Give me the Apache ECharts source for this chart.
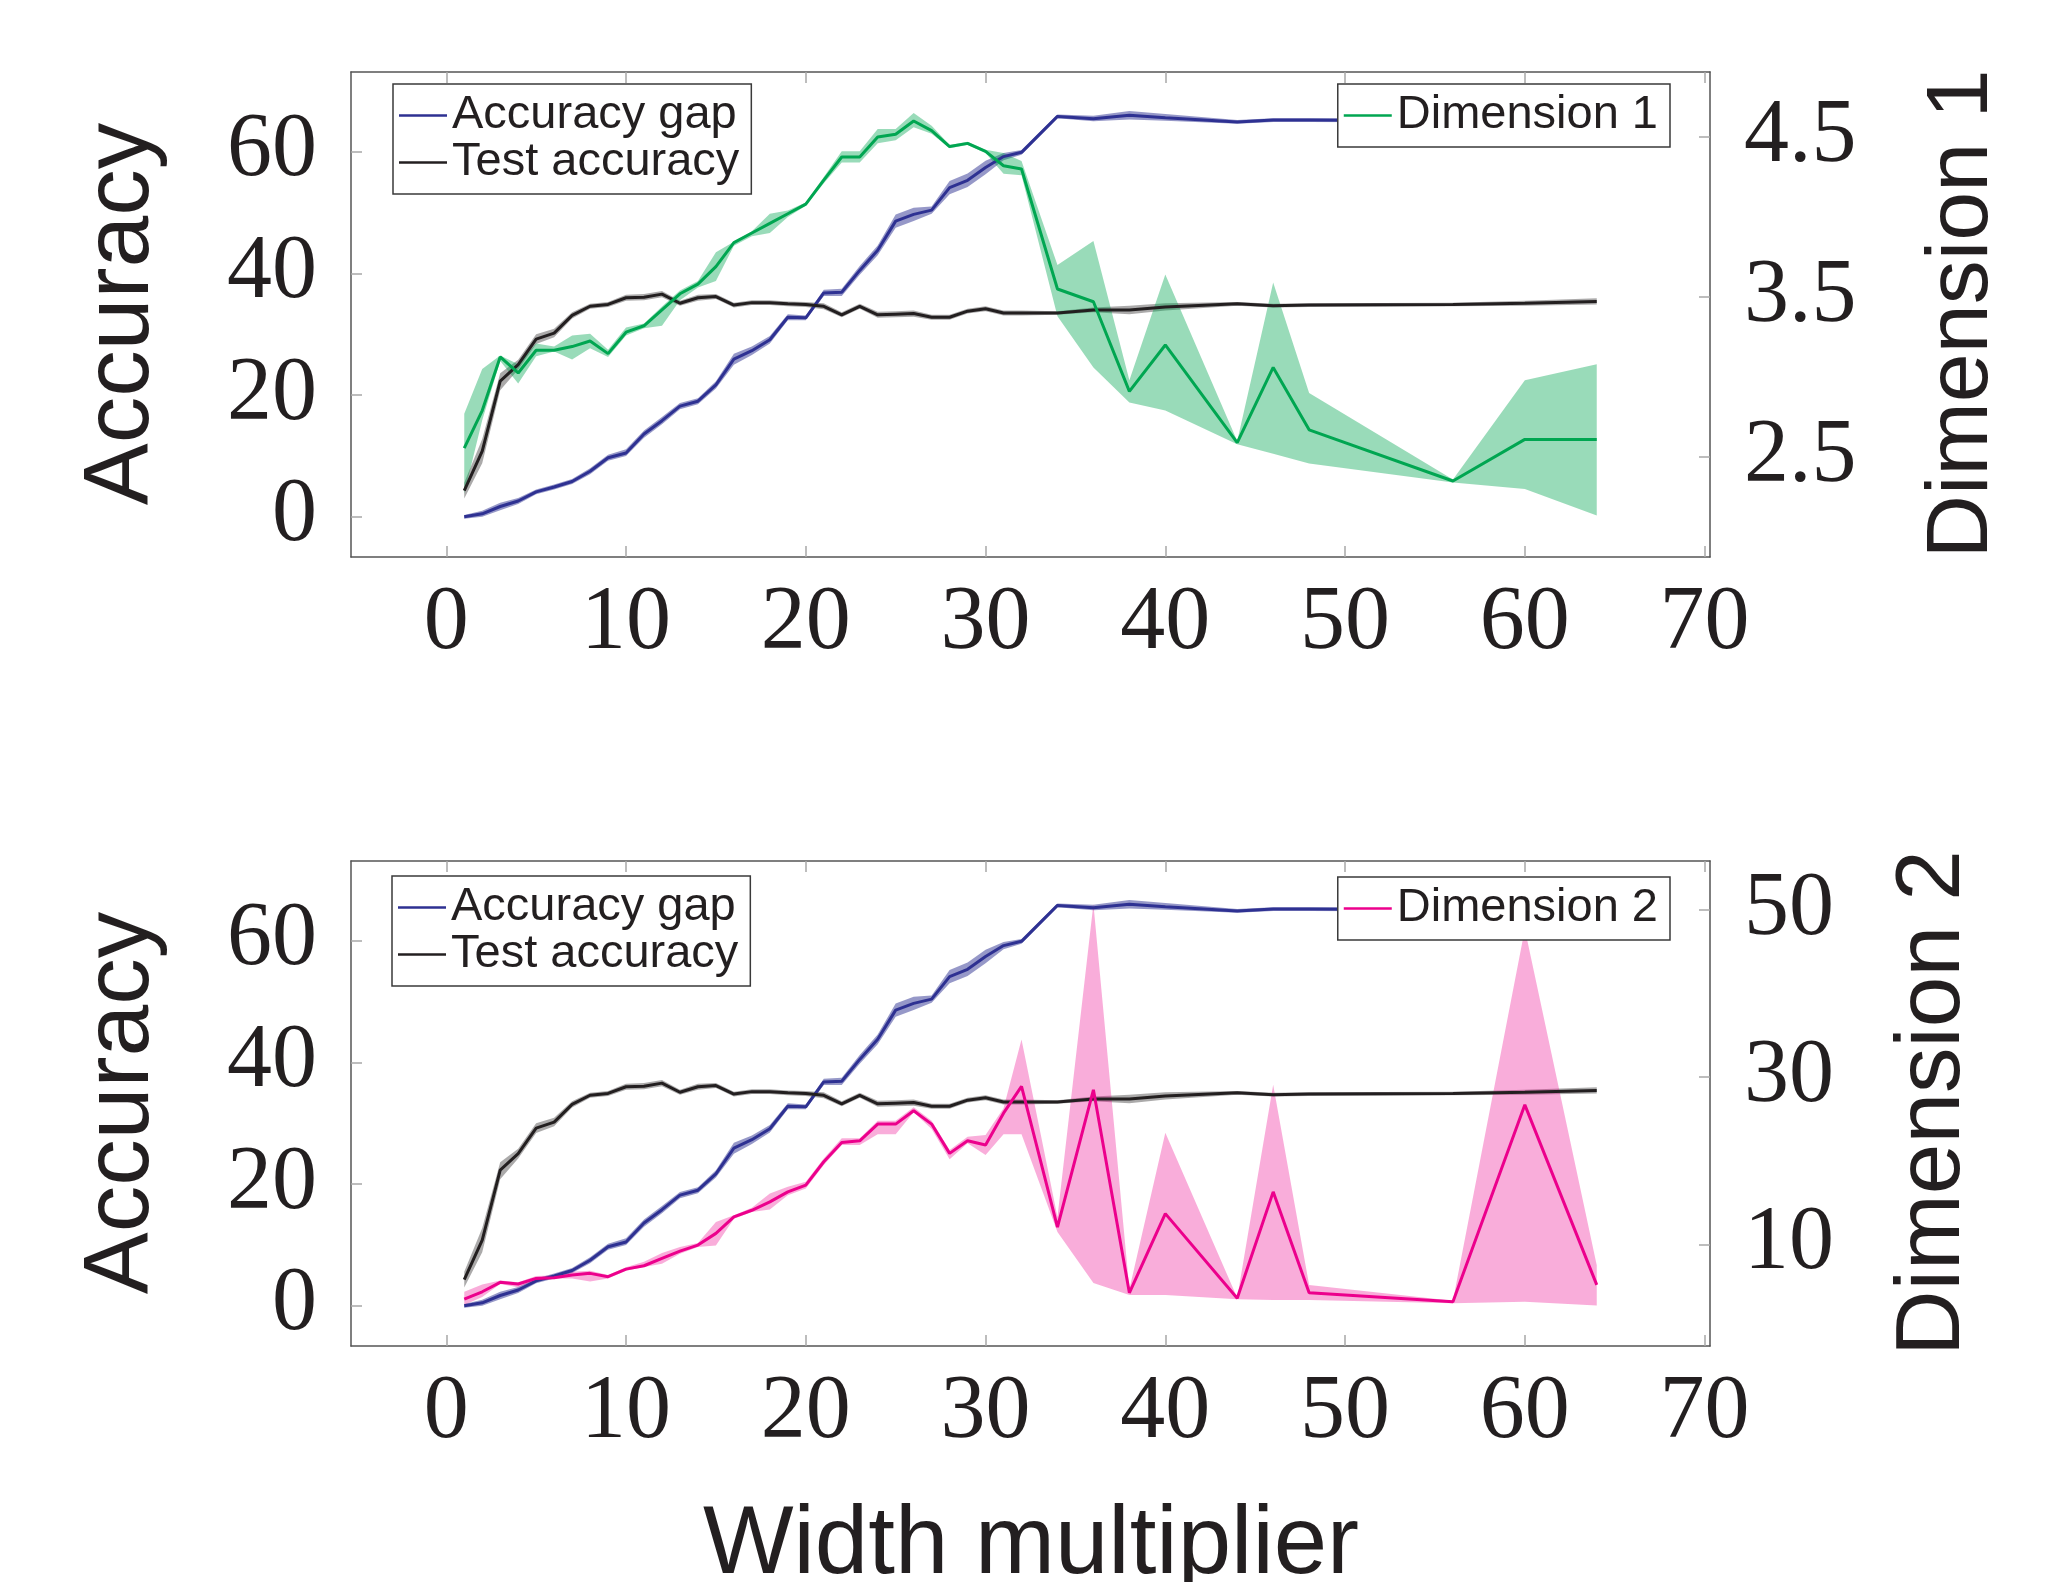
<!DOCTYPE html>
<html>
<head>
<meta charset="utf-8">
<script src="https://cdn.jsdelivr.net/npm/echarts@6/dist/echarts.min.js"></script>
<style>
  html, body { margin: 0; padding: 0; background: #fff; }
  #chart { width: 2047px; height: 1582px; }
</style>
</head>
<body>
<div id="chart"></div>
<script>
  // width multipliers
  const widths = [1, 2, 3, 4, 5, 6, 7, 8, 9, 10, 11, 12, 13, 14, 15, 16, 17, 18, 19, 20,
    21, 22, 23, 24, 25, 26, 27, 28, 29, 30, 31, 32, 34, 36, 38, 40, 44, 46, 48, 56, 60, 64]

  const accGap = [0.0, 0.5, 1.7, 2.6, 4.1, 4.9, 5.8, 7.5, 9.7, 10.5, 13.6, 15.8, 18.2, 19.0, 21.7, 25.9, 27.3, 29.1, 32.8, 32.7,
    36.8, 36.9, 40.5, 43.8, 48.6, 49.7, 50.4, 54.1, 55.3, 57.4, 59.2, 59.9, 65.8, 65.4, 66.0, 65.6, 64.9, 65.2, 65.2, 65.1, 65.0, 65.0]
  const accGapLo = [-0.3, 0.0, 1.1, 2.1, 3.7, 4.5, 5.4, 7.0, 9.2, 10.0, 13.0, 15.2, 17.7, 18.5, 21.1, 25.0, 26.6, 28.5, 32.3, 32.3,
    36.3, 36.3, 39.8, 43.0, 47.5, 48.6, 49.8, 53.0, 54.2, 56.3, 58.6, 59.5, 65.5, 65.0, 65.3, 65.1, 64.6, 64.9, 64.9, 64.8, 64.7, 64.7]
  const accGapHi = [0.3, 1.0, 2.3, 3.1, 4.5, 5.3, 6.2, 8.0, 10.2, 11.1, 14.2, 16.4, 18.7, 19.5, 22.3, 26.8, 28.0, 29.7, 33.3, 33.1,
    37.3, 37.5, 41.2, 44.6, 49.7, 50.8, 51.0, 55.2, 56.4, 58.5, 59.8, 60.3, 66.1, 65.9, 66.7, 66.2, 65.2, 65.5, 65.5, 65.4, 65.3, 65.3]

  const testAcc = [4.3, 10.8, 22.3, 25.0, 29.2, 30.2, 33.1, 34.6, 34.9, 36.0, 36.1, 36.6, 35.1, 36.0, 36.2, 34.8, 35.2, 35.2, 35.0, 34.9,
    34.6, 33.2, 34.6, 33.2, 33.3, 33.4, 32.8, 32.8, 33.8, 34.2, 33.5, 33.5, 33.5, 34.0, 34.0, 34.5, 35.0, 34.7, 34.8, 34.9, 35.1, 35.4]
  const testAccLo = [3.0, 8.8, 20.8, 24.2, 28.4, 29.5, 32.6, 34.2, 34.5, 35.5, 35.6, 36.1, 34.7, 35.5, 35.8, 34.4, 34.8, 34.8, 34.6, 34.5,
    34.1, 32.8, 34.2, 32.7, 32.8, 32.9, 32.4, 32.4, 33.4, 33.8, 33.1, 33.1, 33.2, 33.6, 33.3, 33.9, 34.7, 34.4, 34.5, 34.6, 34.7, 34.9]
  const testAccHi = [5.6, 12.8, 23.6, 25.8, 30.0, 30.9, 33.6, 35.0, 35.3, 36.5, 36.6, 37.1, 35.5, 36.5, 36.6, 35.2, 35.6, 35.6, 35.4, 35.3,
    35.1, 33.6, 35.0, 33.7, 33.8, 33.9, 33.2, 33.2, 34.2, 34.6, 33.9, 33.9, 33.8, 34.4, 34.7, 35.1, 35.3, 35.0, 35.1, 35.2, 35.5, 35.9]

  const dim1 = [2.556, 2.79, 3.125, 3.025, 3.167, 3.167, 3.19, 3.225, 3.146, 3.28, 3.32, 3.42, 3.52, 3.58, 3.69, 3.84, 3.90, 3.96, 4.02, 4.08,
    4.23, 4.375, 4.375, 4.50, 4.517, 4.60, 4.54, 4.44, 4.46, 4.41, 4.32, 4.30, 3.55, 3.47, 2.91, 3.20, 2.59, 3.06, 2.67, 2.35, 2.61, 2.61]
  const dim1Lo = [2.27, 2.73, 3.10, 2.96, 3.13, 3.16, 3.11, 3.18, 3.125, 3.26, 3.305, 3.32, 3.48, 3.56, 3.60, 3.82, 3.88, 3.90, 4.00, 4.07,
    4.21, 4.34, 4.34, 4.46, 4.48, 4.56, 4.52, 4.43, 4.45, 4.40, 4.27, 4.26, 3.38, 3.06, 2.84, 2.79, 2.58, 2.52, 2.46, 2.34, 2.30, 2.135]
  const dim1Hi = [2.77, 3.05, 3.135, 3.08, 3.21, 3.19, 3.26, 3.27, 3.17, 3.31, 3.335, 3.44, 3.54, 3.60, 3.78, 3.845, 3.91, 4.02, 4.04, 4.09,
    4.25, 4.41, 4.41, 4.55, 4.55, 4.65, 4.57, 4.45, 4.47, 4.42, 4.40, 4.35, 3.70, 3.85, 2.98, 3.64, 2.60, 3.59, 2.90, 2.36, 2.98, 3.08]

  const dim2 = [3.49, 4.36, 5.49, 5.29, 5.96, 6.04, 6.36, 6.56, 6.16, 7.07, 7.47, 8.35, 9.22, 9.94, 11.34, 13.3, 14.1, 15.1, 16.3, 17.1,
    19.9, 22.2, 22.4, 24.4, 24.4, 26.0, 24.4, 20.9, 22.4, 21.9, 25.7, 28.9, 12.1, 28.5, 4.24, 13.7, 3.58, 16.3, 4.25, 3.17, 26.7, 5.19]
  const dim2Lo = [2.78, 3.73, 5.29, 4.90, 5.76, 5.96, 5.96, 5.60, 5.96, 6.86, 7.31, 7.70, 8.90, 9.70, 9.90, 13.1, 13.9, 14.2, 15.9, 16.7,
    19.5, 21.9, 21.9, 23.2, 23.2, 25.8, 23.8, 20.2, 22.1, 20.7, 23.2, 23.2, 11.5, 5.4, 3.97, 3.97, 3.47, 3.37, 3.37, 2.98, 3.17, 2.73]
  const dim2Hi = [4.36, 5.24, 5.70, 5.50, 6.24, 6.30, 6.76, 6.88, 6.36, 7.30, 7.95, 9.00, 9.70, 10.2, 12.7, 13.5, 14.4, 16.1, 16.9, 17.5,
    20.3, 22.7, 22.7, 24.8, 24.8, 26.4, 24.8, 21.3, 22.9, 23.1, 26.3, 34.5, 13.3, 50.7, 4.65, 23.35, 3.65, 29.1, 5.16, 3.30, 47.7, 7.54]

  const xTicks = [0, 10, 20, 30, 40, 50, 60, 70]
  const accTicks = [0, 20, 40, 60]
  const dim1Ticks = [2.5, 3.5, 4.5]
  const dim2Ticks = [10, 30, 50]

  const ink = '#231f20'
  const frame = '#555555'
  const tickGray = '#a8a8a8'
  const serif = '"Liberation Serif", "DejaVu Serif", serif'
  const sans = '"Liberation Sans", Arial, sans-serif'

  const colors = {
    gap: '#2e3192', gapBand: 'rgba(46,49,146,0.5)',
    test: '#231f20', testBand: 'rgba(35,31,32,0.38)',
    dim1: '#00a651', dim1Band: 'rgba(0,166,81,0.4)',
    dim2: '#ec008c', dim2Band: 'rgba(236,0,140,0.32)'
  }

  const pairs = (ys) => widths.map((x, i) => [x, ys[i]])

  const lineSeries = (name, ys, color, xi, yi) => ({
    name,
    type: 'line',
    xAxisIndex: xi,
    yAxisIndex: yi,
    data: pairs(ys),
    showSymbol: false,
    color,
    itemStyle: { color },
    lineStyle: { color, width: 3 },
    z: 3,
    animation: false
  })

  // shaded spread drawn as one polygon through the axis scales
  const bandSeries = (name, lo, hi, color, xi, yi) => ({
    name,
    type: 'custom',
    xAxisIndex: xi,
    yAxisIndex: yi,
    data: widths.map((x, i) => [x, lo[i], hi[i]]),
    encode: { x: 0, y: [1, 2] },
    silent: true,
    z: 1,
    renderItem: (params, api) => {
      if (params.dataIndex !== 0) return
      const pts = []
      for (let i = 0; i < widths.length; i++) pts.push(api.coord([widths[i], hi[i]]))
      for (let i = widths.length - 1; i >= 0; i--) pts.push(api.coord([widths[i], lo[i]]))
      return { type: 'polygon', shape: { points: pts }, style: { fill: color } }
    }
  })

  const xAxisFor = (grid, position) => ({
    type: 'value',
    gridIndex: grid,
    position,
    min: -5.3,
    max: 70.3,
    splitLine: { show: false },
    axisLine: { onZero: false, lineStyle: { color: frame, width: 1.5 } },
    axisTick: { inside: true, length: 11, customValues: xTicks, lineStyle: { color: tickGray, width: 1.5 } },
    axisLabel: {
      show: position === 'bottom',
      customValues: xTicks,
      margin: 22,
      fontFamily: serif,
      fontSize: 90,
      color: ink
    }
  })

  const yAxisFor = (grid, position, min, max, ticks, fmt) => ({
    type: 'value',
    gridIndex: grid,
    position,
    min,
    max,
    splitLine: { show: false },
    axisLine: { onZero: false, lineStyle: { color: frame, width: 1.5 } },
    axisTick: { inside: true, length: 11, customValues: ticks, lineStyle: { color: tickGray, width: 1.5 } },
    axisLabel: {
      customValues: ticks,
      margin: 34,
      fontFamily: serif,
      fontSize: 90,
      color: ink,
      formatter: fmt
    }
  })

  const legendBox = (names, pos) => Object.assign({
    data: names,
    orient: 'vertical',
    backgroundColor: '#fff',
    borderColor: '#3a3a3a',
    borderWidth: 1.5,
    borderRadius: 0,
    padding: [8, 12, 8, 6],
    itemGap: 0,
    itemWidth: 48,
    itemHeight: 2.5,
    icon: 'rect',
    selectedMode: false,
    textStyle: { fontFamily: sans, fontSize: 47, lineHeight: 43, color: ink }
  }, pos)

  const axisTitle = (text, x, y, size, rotated) => ({
    type: 'text',
    x,
    y,
    rotation: rotated ? Math.PI / 2 : 0,
    style: {
      text,
      fontFamily: sans,
      fontSize: size,
      fill: ink,
      align: 'center',
      verticalAlign: 'middle'
    }
  })

  const option = {
    animation: false,
    backgroundColor: '#fff',
    grid: [
      { left: 351, right: 337, top: 72, height: 485 },
      { left: 351, right: 337, top: 861, height: 485 }
    ],
    xAxis: [
      xAxisFor(0, 'bottom'),
      xAxisFor(0, 'top'),
      xAxisFor(1, 'bottom'),
      xAxisFor(1, 'top')
    ],
    yAxis: [
      yAxisFor(0, 'left', -6.6, 73.1, accTicks, (v) => String(v)),
      yAxisFor(0, 'right', 1.875, 4.906, dim1Ticks, (v) => v.toFixed(1)),
      yAxisFor(1, 'left', -6.6, 73.1, accTicks, (v) => String(v)),
      yAxisFor(1, 'right', -2.12, 55.84, dim2Ticks, (v) => String(v))
    ],
    legend: [
      legendBox(['Accuracy gap', 'Test accuracy'], { left: 393, top: 84 }),
      legendBox(['Dimension 1'], { right: 377, top: 84 }),
      legendBox(['Accuracy gap', 'Test accuracy'], { left: 392, top: 876 }),
      legendBox(['Dimension 2'], { right: 377, top: 877 })
    ],
    graphic: [
      axisTitle('Accuracy', 122, 314, 93, true),
      axisTitle('Accuracy', 122, 1103, 93, true),
      axisTitle('Dimension 1', 1963, 314, 88, true),
      axisTitle('Dimension 2', 1934, 1103, 91, true),
      axisTitle('Width multiplier', 1031, 1547, 96, false)
    ],
    series: [
      bandSeries('gap band top', accGapLo, accGapHi, colors.gapBand, 0, 0),
      bandSeries('test band top', testAccLo, testAccHi, colors.testBand, 0, 0),
      bandSeries('dim1 band', dim1Lo, dim1Hi, colors.dim1Band, 0, 1),
      lineSeries('Accuracy gap', accGap, colors.gap, 0, 0),
      lineSeries('Test accuracy', testAcc, colors.test, 0, 0),
      lineSeries('Dimension 1', dim1, colors.dim1, 0, 1),

      bandSeries('gap band bottom', accGapLo, accGapHi, colors.gapBand, 2, 2),
      bandSeries('test band bottom', testAccLo, testAccHi, colors.testBand, 2, 2),
      bandSeries('dim2 band', dim2Lo, dim2Hi, colors.dim2Band, 2, 3),
      lineSeries('Accuracy gap', accGap, colors.gap, 2, 2),
      lineSeries('Test accuracy', testAcc, colors.test, 2, 2),
      lineSeries('Dimension 2', dim2, colors.dim2, 2, 3)
    ]
  }

  const chart = echarts.init(document.getElementById('chart'))
  chart.setOption(option)
</script>
</body>
</html>
